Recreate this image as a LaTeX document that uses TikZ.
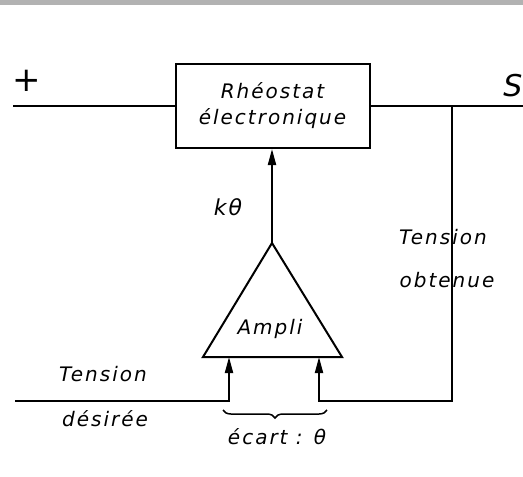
\documentclass[tikz,border=0pt]{standalone}
\usepackage{fontspec}
\newfontfamily\manuscrit[LetterSpace=10]{DejaVu Sans}
\usetikzlibrary{arrows.meta,decorations.pathreplacing}
\begin{document}
\begin{tikzpicture}[x=1pt, y=-1pt, line width=2pt,
    every node/.style={font=\fontsize{20}{26}\selectfont\manuscrit\itshape},
    fleche/.style={-{Triangle[length=16pt,width=8pt]}}]
\useasboundingbox (0,0) rectangle (523,477);
\fill[gray!60] (0,0) rectangle (523,5);

% bloc rheostat
\node[draw, minimum width=194pt, minimum height=84pt, align=center, inner sep=0pt] (rheo) at (272.5,106) {Rhéostat\\électronique};
\node[font=\fontsize{34}{34}\selectfont\manuscrit] (plus) at (27,81) {+};
\node[font=\fontsize{30}{30}\selectfont\manuscrit\itshape] (s) at (513,86) {S};
\coordinate (entree) at (13,106);
\coordinate (sortie) at (523,106);
\coordinate (noeud) at (452,106);
\draw (entree) -- (rheo.west);
\draw (rheo.east) -- (sortie);

% amplificateur
\coordinate (apex) at (272,243);
\coordinate (bg) at (203,357);
\coordinate (bd) at (342,357);
\draw (apex) -- (bd) -- (bg) -- cycle;
\node (ampli) at (270,329) {Ampli};
\draw[fleche] (apex) -- (apex |- rheo.south);
\node[font=\fontsize{22}{26}\selectfont\manuscrit\itshape] (k) at (228,207) {kθ};

% entrees
\coordinate (eg) at (229,357);
\coordinate (ed) at (319,357);
\coordinate (desiree) at (15,401);
\coordinate (retour) at (452,401);
\draw[fleche] (desiree) -- (desiree -| eg) -- (eg);
\draw[fleche] (noeud) -- (retour) -- (retour -| ed) -- (ed);

\node (t1) at (103,374) {Tension};
\node (t2) at (105,419) {désirée};
\node (t3) at (443,237) {Tension};
\node (t4) at (447,280) {obtenue};

\draw[line width=1.5pt, decorate, decoration={brace, mirror, amplitude=8pt}] (223,410) -- (327,410);
\node (ecart) at (277,437) {écart : θ};
\end{tikzpicture}
\end{document}
